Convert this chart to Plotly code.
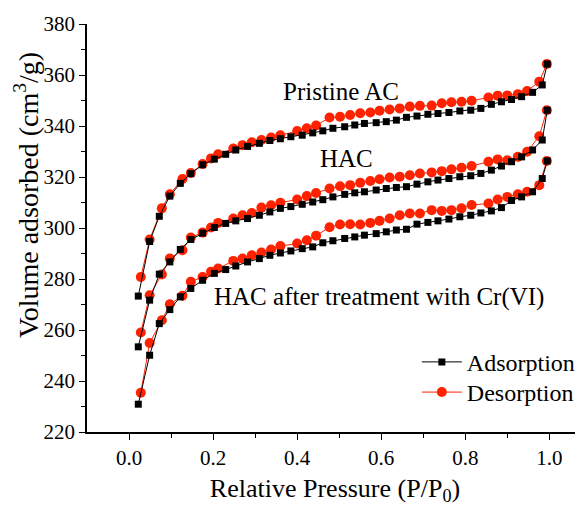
import plotly.graph_objects as go

# Adsorption branch (shared relative pressures)
x_ads = [0.022, 0.049, 0.072, 0.097, 0.122, 0.147, 0.175, 0.203, 0.23, 0.254,
         0.282, 0.31, 0.335, 0.36, 0.385, 0.412, 0.437, 0.461, 0.485, 0.513,
         0.537, 0.56, 0.588, 0.612, 0.636, 0.66, 0.685, 0.711, 0.735, 0.761,
         0.787, 0.813, 0.837, 0.862, 0.886, 0.91, 0.934, 0.96, 0.983, 0.995]
pristine_ads = [273.3, 294.7, 304.6, 312.5, 317.5, 321.3, 324.8, 327.0, 328.9, 330.6,
                332.0, 333.2, 334.3, 335.0, 335.8, 336.4, 337.3, 338.1, 339.1, 339.7,
                340.4, 341.0, 341.3, 341.7, 342.3, 343.4, 343.9, 344.6, 344.9, 345.3,
                345.9, 346.2, 346.9, 348.5, 349.5, 350.4, 351.5, 353.2, 356.1, 364.3]
hac_ads = [253.4, 271.7, 281.9, 286.7, 291.6, 295.5, 298.0, 300.2, 301.8, 302.8,
           303.7, 305.0, 306.3, 307.7, 308.4, 309.3, 310.2, 311.1, 312.2, 313.2,
           313.8, 314.2, 314.9, 315.5, 315.9, 316.2, 317.2, 318.1, 318.8, 319.4,
           320.1, 320.5, 321.4, 322.7, 324.3, 326.0, 327.9, 330.6, 334.5, 346.2]
cr_ads = [230.9, 250.1, 262.5, 268.0, 273.0, 276.3, 279.5, 282.2, 283.7, 285.1,
          286.7, 288.0, 289.3, 290.2, 291.0, 291.9, 292.6, 294.2, 295.0, 295.9,
          296.5, 297.2, 297.8, 298.5, 299.2, 299.5, 301.5, 302.2, 302.8, 303.5,
          304.4, 305.0, 305.9, 306.7, 308.0, 310.8, 312.2, 314.2, 319.4, 326.3]

# Desorption branch
x_des = [0.028, 0.049, 0.078, 0.097, 0.127, 0.147, 0.175, 0.195, 0.212, 0.248,
         0.27, 0.292, 0.315, 0.338, 0.36, 0.40, 0.423, 0.445, 0.477, 0.502,
         0.526, 0.55, 0.574, 0.596, 0.62, 0.644, 0.668, 0.692, 0.72, 0.744,
         0.767, 0.791, 0.815, 0.855, 0.877, 0.90, 0.925, 0.947, 0.976, 0.994]
pristine_des = [280.8, 295.5, 307.7, 313.2, 319.2, 321.6, 325.1, 327.3, 328.9, 331.2,
                332.5, 333.6, 334.5, 335.5, 336.4, 338.0, 339.1, 340.2, 343.3, 343.6,
                344.3, 345.0, 345.3, 346.0, 346.5, 346.9, 347.6, 347.9, 348.0, 348.9,
                349.3, 349.5, 349.9, 351.2, 351.9, 352.0, 352.5, 353.7, 357.4, 364.3]
hac_des = [259.0, 273.6, 281.8, 288.0, 291.3, 296.3, 298.2, 300.2, 302.0, 303.7,
           305.0, 305.9, 308.0, 308.9, 309.9, 311.2, 312.5, 313.7, 315.5, 316.4,
           316.8, 317.7, 318.4, 319.1, 319.8, 320.1, 320.7, 321.4, 321.8, 322.3,
           323.0, 323.6, 324.3, 326.0, 326.9, 326.6, 327.9, 329.9, 336.0, 346.2]
cr_des = [235.4, 254.9, 263.8, 270.1, 273.4, 278.9, 280.8, 282.8, 284.1, 287.1,
          288.0, 289.3, 290.4, 291.6, 292.9, 293.9, 295.2, 297.0, 300.3, 301.4,
          301.5, 301.4, 302.0, 302.8, 303.7, 305.0, 305.7, 305.7, 307.0, 306.7,
          307.0, 307.7, 309.0, 309.6, 311.2, 312.2, 313.2, 314.2, 316.8, 326.3]

labels = ["Pristine AC", "HAC", "HAC after treatment with Cr(VI)"]
label_pos = [(0.504, 353.4), (0.518, 327.3), (0.594, 273.0)]

FONT = "Liberation Serif"
RED = "#ff2200"

fig = go.Figure()
for i, (ya, yd) in enumerate([(pristine_ads, pristine_des), (hac_ads, hac_des), (cr_ads, cr_des)]):
    fig.add_trace(go.Scatter(x=x_des, y=yd, mode="lines+markers", name="Desorption",
                             line=dict(color=RED, width=1),
                             marker=dict(symbol="circle", size=10, color=RED),
                             showlegend=(i == 0), legend="legend2"))
    fig.add_trace(go.Scatter(x=x_ads, y=ya, mode="lines+markers", name="Adsorption",
                             line=dict(color="black", width=1),
                             marker=dict(symbol="square", size=7, color="black"),
                             showlegend=(i == 0), legend="legend"))

for txt, (px, py) in zip(labels, label_pos):
    fig.add_annotation(x=px, y=py, text=txt, showarrow=False,
                       font=dict(family=FONT, size=25, color="black"))

# y-axis title as rotated text
fig.add_annotation(xref="paper", yref="paper", x=-0.121, y=0.581, textangle=-90,
                   xanchor="center", yanchor="middle",
                   text="Volume adsorbed (cm<sup>3</sup>/g)", showarrow=False,
                   font=dict(family=FONT, size=28, color="black"))

leg_common = dict(xanchor="left", yanchor="top", font=dict(family=FONT, size=24),
                  bgcolor="rgba(0,0,0,0)", itemwidth=40)

# Page body adds an 8px offset, so the figure is 8px smaller than the window
fig.update_layout(
    width=575, height=498,
    margin=dict(l=79, r=0, t=16, b=74, autoexpand=False),
    paper_bgcolor="white", plot_bgcolor="white",
    font=dict(family=FONT, size=20, color="black"),
    legend=dict(x=0.665, y=0.226, **leg_common),
    legend2=dict(x=0.665, y=0.152, **leg_common),
    showlegend=True,
)
fig.update_xaxes(range=[-0.1, 1.08], tickvals=[0, 0.2, 0.4, 0.6, 0.8, 1.0],
                 ticktext=["0.0", "0.2", "0.4", "0.6", "0.8", "1.0"],
                 ticks="outside", ticklen=6, tickwidth=1.2, tickcolor="black",
                 minor=dict(tickvals=[0.1, 0.3, 0.5, 0.7, 0.9], ticks="outside", ticklen=4, tickcolor="black"),
                 showline=True, linecolor="black", linewidth=1.5, showgrid=False, zeroline=False,
                 automargin=False,
                 tickfont=dict(family=FONT, size=21),
                 title=dict(text="Relative Pressure (P/P<sub>0</sub>)", font=dict(family=FONT, size=26), standoff=10))
fig.update_yaxes(range=[220, 380], dtick=20,
                 ticks="outside", ticklen=6, tickwidth=1.2, tickcolor="black",
                 minor=dict(dtick=10, ticks="outside", ticklen=4, tickcolor="black"),
                 showline=True, linecolor="black", linewidth=1.5, showgrid=False, zeroline=False,
                 automargin=False,
                 tickfont=dict(family=FONT, size=21))

fig.write_html("out.html")
